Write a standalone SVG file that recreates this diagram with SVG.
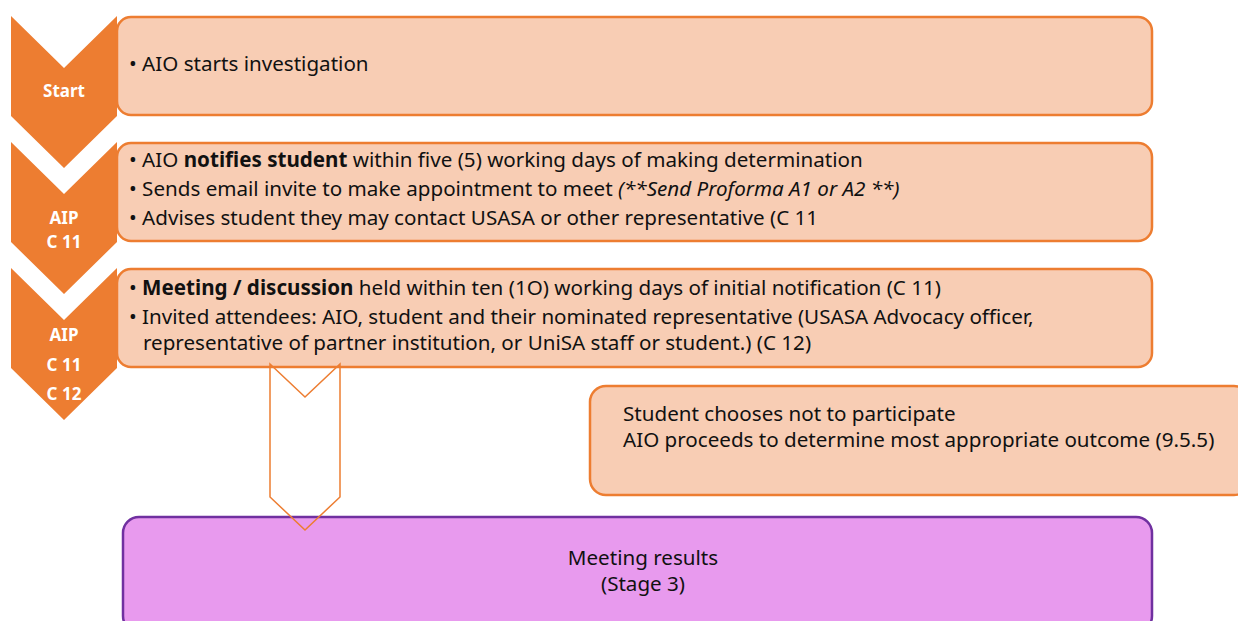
<svg xmlns="http://www.w3.org/2000/svg" width="1238" height="621" viewBox="0 0 1238 621">
<style>
.chev{fill:#ED7D31;}
.box{fill:#F8CDB4;stroke:#ED7D31;stroke-width:2.5;}
.lbl{font-family:"Noto Sans","Liberation Sans",sans-serif;font-size:17px;font-weight:bold;fill:#fff;text-anchor:middle;}
.t{font-family:"Noto Sans","Liberation Sans",sans-serif;font-size:20.6px;fill:#111;}
.b{font-weight:bold;}
.i{font-style:italic;}
.res{fill:#E89AEE;stroke:#7030A0;stroke-width:2.5;}
.arrow{fill:none;stroke:#ED7D31;stroke-width:1.5;}
</style>
<rect width="1238" height="621" fill="#fff"/>
<g id="chevron1"><polygon class="chev" points="11,16 64,68 117,16 117,116 64,168 11,116"/><text class="lbl" x="64" y="97">Start</text></g>
<g id="chevron2"><polygon class="chev" points="11,142 64,194 117,142 117,242 64,294 11,242"/><text class="lbl" x="64" y="224">AIP</text><text class="lbl" x="64" y="248">C 11</text></g>
<g id="chevron3"><polygon class="chev" points="11,268 64,320 117,268 117,368 64,420 11,368"/><text class="lbl" x="64" y="341">AIP</text><text class="lbl" x="64" y="371">C 11</text><text class="lbl" x="64" y="400">C 12</text></g>
<g id="step1"><rect class="box" x="117" y="17" width="1035" height="98" rx="14"/><text class="t" x="129" y="71">• AIO starts investigation</text></g>
<g id="step2"><rect class="box" x="117" y="143" width="1035" height="98" rx="14"/>
<text class="t" x="129" y="167">• AIO <tspan class="b">notifies student</tspan> within five (5) working days of making determination</text>
<text class="t" x="129" y="196">• Sends email invite to make appointment to meet <tspan class="i">(**Send Proforma A1 or A2 **)</tspan></text>
<text class="t" x="129" y="225">• Advises student they may contact USASA or other representative (C 11</text></g>
<g id="step3"><rect class="box" x="117" y="269" width="1035" height="98" rx="14"/>
<text class="t" x="129" y="295">• <tspan class="b">Meeting / discussion</tspan> held within ten (1O) working days of initial notification (C 11)</text>
<text class="t" x="129" y="324">• Invited attendees: AIO, student and their nominated representative (USASA Advocacy officer,</text>
<text class="t" x="143" y="350">representative of partner institution, or UniSA staff or student.) (C 12)</text></g>
<g id="notparticipate"><rect class="box" x="590" y="386" width="660" height="109" rx="16"/>
<text class="t" x="623" y="421">Student chooses not to participate</text>
<text class="t" x="623" y="447">AIO proceeds to determine most appropriate outcome (9.5.5)</text></g>
<g id="results"><rect class="res" x="123" y="517" width="1029" height="115" rx="16"/>
<text class="t" x="643" y="565" text-anchor="middle">Meeting results</text>
<text class="t" x="643" y="591" text-anchor="middle">(Stage 3)</text></g>
<g id="connectors"><polygon class="arrow" points="270,364 305,397 340,364 340,497 305,530 270,497"/></g>
</svg>
